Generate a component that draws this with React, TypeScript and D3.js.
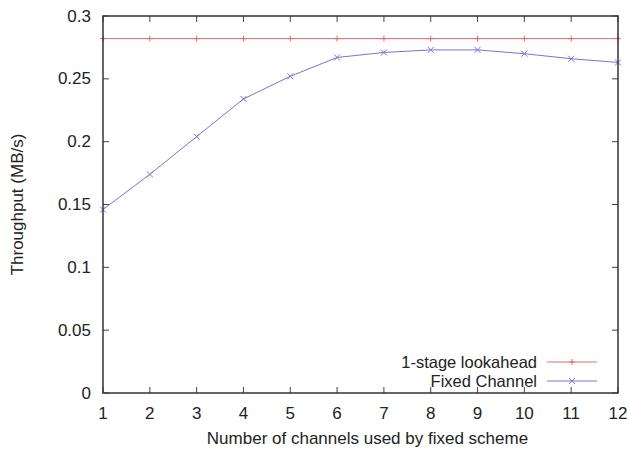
import React from "react";
import * as d3 from "d3";

const channels = [1, 2, 3, 4, 5, 6, 7, 8, 9, 10, 11, 12];
const lookahead = [0.282, 0.282, 0.282, 0.282, 0.282, 0.282, 0.282, 0.282, 0.282, 0.282, 0.282, 0.282];
const fixedChannel = [0.146, 0.174, 0.204, 0.234, 0.252, 0.267, 0.271, 0.273, 0.273, 0.270, 0.266, 0.263];
const yTicks = [0, 0.05, 0.1, 0.15, 0.2, 0.25, 0.3];
const yTickLabels = ["0", "0.05", "0.1", "0.15", "0.2", "0.25", "0.3"];
const seriesNames = ["1-stage lookahead", "Fixed Channel"];

const W = 631, H = 453;
const L = 103, R = 618, T = 16, B = 393;
const FONT = "'Liberation Sans', Arial, sans-serif";
const FS = 17;
const LFS = 16.5;
const RED = "#e06a6a";
const BLUE = "#7575d6";

export default function App() {
  const x = d3.scaleLinear().domain([1, 12]).range([L, R]);
  const y = d3.scaleLinear().domain([0, 0.3]).range([B, T]);
  const line = d3.line<number>().x((_, i) => x(channels[i])).y((d) => y(d));
  const tl = 6;
  return (
    <svg width={W} height={H} style={{ position: "absolute", left: 0, top: 0, background: "#fff" }}>
      <rect x={0} y={0} width={W} height={H} fill="#fff" />
      {/* series */}
      <path d={line(lookahead) || ""} fill="none" stroke={RED} strokeWidth={1} />
      {lookahead.map((v, i) => (
        <path key={"r" + i} d={`M${x(channels[i]) - 3},${y(v)}H${x(channels[i]) + 3}M${x(channels[i])},${y(v) - 3}V${y(v) + 3}`} stroke={RED} strokeWidth={1} />
      ))}
      <path d={line(fixedChannel) || ""} fill="none" stroke={BLUE} strokeWidth={1} />
      {fixedChannel.map((v, i) => (
        <path key={"b" + i} d={`M${x(channels[i]) - 3},${y(v) - 3}L${x(channels[i]) + 3},${y(v) + 3}M${x(channels[i]) - 3},${y(v) + 3}L${x(channels[i]) + 3},${y(v) - 3}`} stroke={BLUE} strokeWidth={1} />
      ))}
      {/* ticks */}
      {channels.map((c) => (
        <g key={"xt" + c}>
          <line x1={x(c)} x2={x(c)} y1={B} y2={B - tl} stroke="#444" strokeWidth={1} />
          <line x1={x(c)} x2={x(c)} y1={T} y2={T + tl} stroke="#444" strokeWidth={1} />
          <text x={x(c)} y={413} textAnchor="middle" dominantBaseline="central" fontFamily={FONT} fontSize={FS} fill="#222">{c}</text>
        </g>
      ))}
      {yTicks.map((t, i) => (
        <g key={"yt" + i}>
          <line x1={L} x2={L + tl} y1={y(t)} y2={y(t)} stroke="#444" strokeWidth={1} />
          <line x1={R} x2={R - tl} y1={y(t)} y2={y(t)} stroke="#444" strokeWidth={1} />
          <text x={91} y={y(t)} textAnchor="end" dominantBaseline="central" fontFamily={FONT} fontSize={FS} fill="#222">{yTickLabels[i]}</text>
        </g>
      ))}
      <rect x={L} y={T} width={R - L} height={B - T} fill="none" stroke="#333" strokeWidth={1.5} />
      {/* legend */}
      <text x={537} y={362} textAnchor="end" dominantBaseline="central" fontFamily={FONT} fontSize={LFS} fill="#222">{seriesNames[0]}</text>
      <line x1={547} x2={597} y1={362} y2={362} stroke={RED} strokeWidth={1} />
      <path d={`M569,362H575M572,359V365`} stroke={RED} strokeWidth={1} />
      <text x={537} y={381} textAnchor="end" dominantBaseline="central" fontFamily={FONT} fontSize={LFS} fill="#222">{seriesNames[1]}</text>
      <line x1={547} x2={597} y1={381} y2={381} stroke={BLUE} strokeWidth={1} />
      <path d={`M569,378L575,384M569,384L575,378`} stroke={BLUE} strokeWidth={1} />
      {/* axis titles */}
      <text x={(L + R) / 2 + 7} y={438} textAnchor="middle" dominantBaseline="central" fontFamily={FONT} fontSize={FS} fill="#222">Number of channels used by fixed scheme</text>
      <text transform={`translate(17,${(T + B) / 2}) rotate(-90)`} textAnchor="middle" dominantBaseline="central" fontFamily={FONT} fontSize={FS} fill="#222">Throughput (MB/s)</text>
    </svg>
  );
}
